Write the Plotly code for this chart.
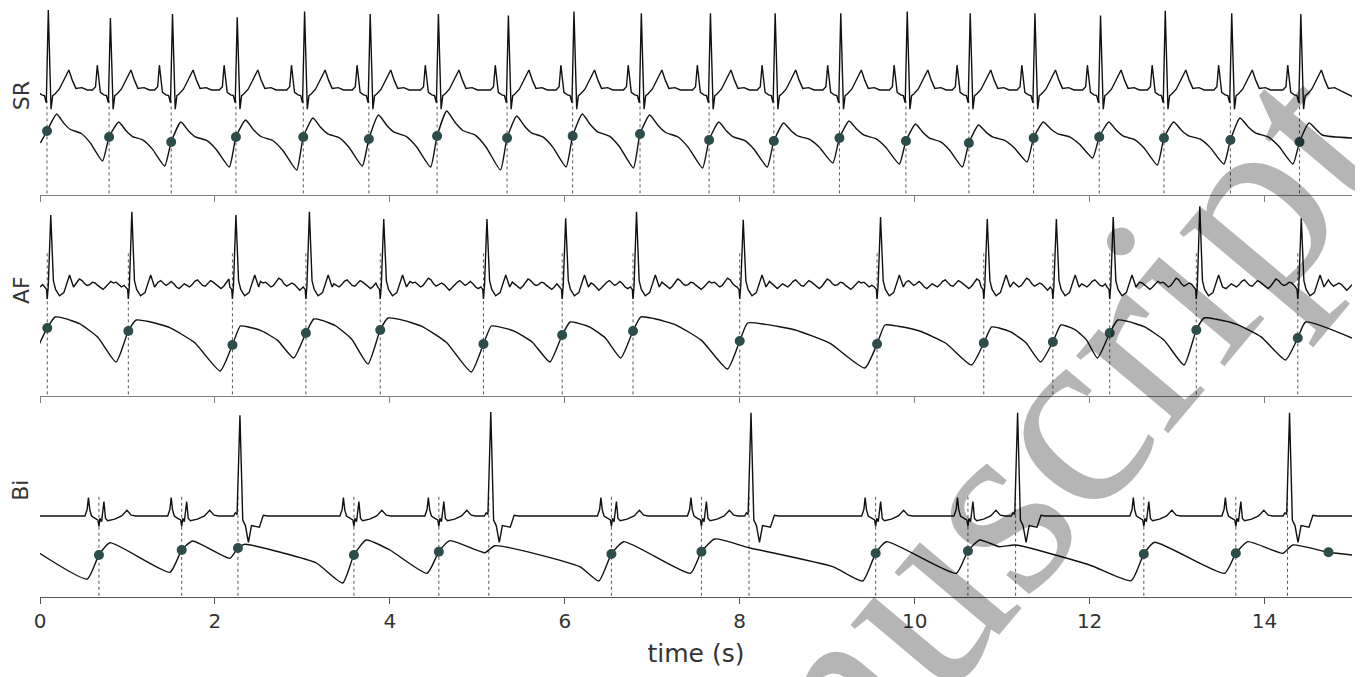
import plotly.graph_objects as go

# ---------------- values ----------------
X_RANGE = [0, 15]
X_TICKS = [0, 2, 4, 6, 8, 10, 12, 14]

# ---- SR (sinus rhythm) panel ----
SR_BEATS = [0.08, 0.79, 1.50, 2.24, 3.01, 3.76, 4.54, 5.34, 6.09, 6.86,
            7.65, 8.39, 9.14, 9.90, 10.62, 11.36, 12.11, 12.85, 13.61, 14.40]
SR_R_MV = [1.00, 0.90, 0.95, 0.91, 0.98, 0.95, 0.95, 0.93, 0.98, 0.96,
           0.96, 0.96, 0.96, 0.98, 0.96, 0.96, 0.93, 0.99, 0.96, 0.95]
SR_ECG_PRE_DT = [-0.19, -0.155, -0.135, -0.115, -0.10, -0.06, -0.03, -0.008]
SR_ECG_PRE_MV = [0.0, 0.04, 0.31, 0.08, -0.03, -0.06, -0.07, -0.16]
SR_ECG_R_DT = 0.015
SR_ECG_POST_DT = [0.046, 0.065, 0.09, 0.14, 0.20, 0.25, 0.29, 0.33, 0.40, 0.46]
SR_ECG_POST_MV = [-0.24, -0.07, -0.05, 0.01, 0.14, 0.25, 0.12, 0.02, 0.03, 0.0]
SR_ECG_TAIL_T = [15.0]
SR_ECG_TAIL_MV = [-0.08]

SR_ABP_DOT = [104, 98, 93, 98, 98, 96, 99, 97, 99, 101,
              95, 94, 97, 94, 92, 97, 98, 97, 95, 93]
SR_ABP_PEAK = [121, 113, 113, 115, 117, 120, 124, 119, 121, 120,
               113, 112, 114, 111, 110, 113, 113, 113, 117, 112]
SR_ABP_TROUGH = [92, 74, 69, 68, 65, 69, 68, 65, 68, 67,
                 67, 68, 72, 71, 68, 73, 77, 70, 71, 71]
SR_ABP_TROUGH_DT = -0.075
SR_ABP_PEAK_DT = 0.11
SR_ABP_FALL_FRAC = [0.16, 0.30, 0.53, 0.73]
SR_ABP_FALL_DROP = [0.20, 0.33, 0.41, 0.61]
SR_ABP_TAIL_T = [14.66, 15.0]
SR_ABP_TAIL_V = [100, 97]

# ---- AF (atrial fibrillation) panel ----
AF_BEATS = [0.083, 1.01, 2.20, 3.04, 3.89, 5.07, 5.97, 6.78, 8.00, 9.57,
            10.79, 11.58, 12.23, 13.22, 14.38]
AF_R_MV = [0.90, 0.94, 0.90, 0.94, 0.85, 0.85, 0.86, 0.94, 0.84, 0.875,
           0.85, 0.85, 0.875, 1.01, 0.86]
AF_ECG_PRE_DT = [-0.03, -0.008, 0.0, 0.012]
AF_ECG_PRE_MV = [0.0, -0.03, -0.15, 0.02]
AF_ECG_R_DT = 0.04
AF_ECG_POST_DT = [0.07, 0.095, 0.14, 0.19, 0.255, 0.30]
AF_ECG_POST_MV = [0.08, -0.03, -0.11, -0.07, 0.15, 0.0]
AF_FWAVE_STEP = 0.03
AF_FWAVE_MV = [0.00, 0.03, 0.07, 0.09, 0.06, 0.02, 0.01, 0.04, 0.08, 0.06,
               0.03, 0.00, -0.02, 0.01, 0.05, 0.10, 0.08, 0.04, 0.02, 0.03,
               0.06, 0.05, 0.02, -0.01, -0.03, 0.00, 0.04, 0.07, 0.05, 0.06,
               0.03, 0.00, 0.02, 0.06, 0.11, 0.09, 0.04, 0.01, 0.03, 0.05,
               0.03, -0.01, -0.04, -0.01, 0.03, 0.06, 0.08, 0.05, 0.02, 0.04,
               0.07, 0.04, 0.00, -0.02, 0.01, 0.04, 0.02]

AF_ABP_DOT = [107, 104, 90, 102, 105, 91, 100, 104, 94, 91, 92, 93, 102, 105, 97]
AF_ABP_PEAK = [118, 115, 109, 116, 117, 109, 113, 118, 112, 110, 108, 110, 115, 117, 113]
AF_ABP_TROUGH = [82, 73, 64, 77, 71, 63, 73, 77, 66, 67, 70, 73, 77, 70, 75]
AF_ABP_TROUGH_DT = -0.14
AF_ABP_PEAK_DT = 0.09
AF_ABP_FALL_FRAC = [0.15, 0.40, 0.70]
AF_ABP_FALL_DROP = [0.03, 0.15, 0.45]
AF_ABP_TAIL_T = [15.0]
AF_ABP_TAIL_V = [97]

# ---- Bi (bigeminy) panel ----
BI_BEATS = [0.674, 1.62, 2.263, 3.589, 4.56, 5.131, 6.533, 7.562, 8.106,
            9.554, 10.609, 11.154, 12.62, 13.672, 14.263]
BI_KIND = ["n", "n", "v", "n", "n", "v", "n", "n", "v",
           "n", "n", "v", "n", "n", "v"]
BI_V_R_MV = [1.26, 1.30, 1.29, 1.29, 1.29]
BI_N_DT = [-0.16, -0.135, -0.12, -0.105, -0.085, -0.045, -0.012, 0.0, 0.012,
           0.03, 0.057, 0.075, 0.10, 0.18, 0.26, 0.32, 0.37, 0.42]
BI_N_MV = [0.0, 0.08, 0.23, 0.08, 0.0, -0.03, -0.05, -0.13, -0.03,
           -0.07, 0.18, -0.03, -0.06, -0.04, 0.0, 0.07, 0.01, 0.0]
BI_V_PRE_DT = [-0.05, -0.03, -0.01]
BI_V_PRE_MV = [0.0, 0.04, 0.02]
BI_V_R_DT = 0.023
BI_V_POST_DT = [0.055, 0.085, 0.12, 0.155, 0.20, 0.245, 0.29, 0.34]
BI_V_POST_MV = [-0.05, -0.12, -0.33, -0.12, -0.13, -0.14, 0.01, 0.0]
BI_ECG_EDGE_T = [0.0, 15.0]
BI_ECG_EDGE_MV = [0.0, 0.0]

BI_ABP_T = [0.0, 0.54, 0.674, 0.80, 1.486, 1.62, 1.745, 2.17, 2.263, 2.34,
            2.78, 3.16, 3.46, 3.589, 3.73, 4.0, 4.426, 4.56, 4.686, 5.086,
            5.2, 6.17, 6.389, 6.533, 6.674, 7.437, 7.562, 7.714, 8.106, 9.063,
            9.406, 9.554, 9.677, 10.476, 10.609, 10.743, 10.97, 11.154, 12.0, 12.476,
            12.62, 12.743, 13.543, 13.672, 13.809, 14.21, 14.323, 14.731, 15.0]
BI_ABP_V = [81.5, 56, 80, 92.3, 62.7, 85, 94, 76.7, 87, 90.7,
            82, 72, 52, 80, 95, 85, 61.7, 83.3, 94.3, 82.3,
            89.3, 68.3, 54, 81, 93.3, 61.7, 83.3, 96, 87.3, 68.3,
            54, 81.7, 93.3, 61.7, 84, 95, 88.3, 90, 70, 54.3,
            81, 92.7, 61.7, 81.7, 93.3, 81.7, 90, 82.7, 80]
BI_DOT_T = [0.674, 1.62, 2.263, 3.589, 4.56, 6.533, 7.562, 9.554, 10.609,
            12.62, 13.672, 14.731]
BI_DOT_V = [80, 85, 87, 80, 83.3, 81, 83.3, 81.7, 84, 81, 81.7, 82.7]

PANEL_LABELS = ["SR", "AF", "Bi"]
X_TITLE = "time (s)"
WATERMARK = "Manuscript"


# ---------------- build the traces ----------------
def ecg_series(beats, r_amps, pre_dt, pre_mv, r_dt, post_dt, post_mv):
    pts = []
    for b, r in zip(beats, r_amps):
        pts += [(b + d, v) for d, v in zip(pre_dt, pre_mv)]
        pts.append((b + r_dt, r))
        pts += [(b + d, v) for d, v in zip(post_dt, post_mv)]
    return pts


def abp_series(beats, dots, peaks, troughs, tr_dt, pk_dt, fracs, drops, tail_t, tail_v):
    pts = []
    n = len(beats)
    for i, b in enumerate(beats):
        pts.append((b + tr_dt, troughs[i]))
        pts.append((b, dots[i]))
        pts.append((b + pk_dt, peaks[i]))
        if i < n - 1:
            t0 = b + pk_dt
            t1 = beats[i + 1] + tr_dt
            for f, d in zip(fracs, drops):
                pts.append((t0 + f * (t1 - t0), peaks[i] - d * (peaks[i] - troughs[i + 1])))
    pts += list(zip(tail_t, tail_v))
    return pts


def unzip(pts):
    pts = sorted(pts)
    return [p[0] for p in pts], [p[1] for p in pts]


# SR
sr_ecg = ecg_series(SR_BEATS, SR_R_MV, SR_ECG_PRE_DT, SR_ECG_PRE_MV, SR_ECG_R_DT,
                    SR_ECG_POST_DT, SR_ECG_POST_MV) + list(zip(SR_ECG_TAIL_T, SR_ECG_TAIL_MV))
sr_abp = abp_series(SR_BEATS, SR_ABP_DOT, SR_ABP_PEAK, SR_ABP_TROUGH, SR_ABP_TROUGH_DT,
                    SR_ABP_PEAK_DT, SR_ABP_FALL_FRAC, SR_ABP_FALL_DROP,
                    SR_ABP_TAIL_T, SR_ABP_TAIL_V)

# AF
af_ecg = ecg_series(AF_BEATS, AF_R_MV, AF_ECG_PRE_DT, AF_ECG_PRE_MV, AF_ECG_R_DT,
                    AF_ECG_POST_DT, AF_ECG_POST_MV)
n_f = int(round(X_RANGE[1] / AF_FWAVE_STEP))
for k in range(n_f + 1):
    t = k * AF_FWAVE_STEP
    if any(b - 0.04 < t < b + 0.32 for b in AF_BEATS):
        continue
    af_ecg.append((t, AF_FWAVE_MV[k % len(AF_FWAVE_MV)]))
af_abp = abp_series(AF_BEATS, AF_ABP_DOT, AF_ABP_PEAK, AF_ABP_TROUGH, AF_ABP_TROUGH_DT,
                    AF_ABP_PEAK_DT, AF_ABP_FALL_FRAC, AF_ABP_FALL_DROP,
                    AF_ABP_TAIL_T, AF_ABP_TAIL_V)

# Bi
bi_ecg = list(zip(BI_ECG_EDGE_T, BI_ECG_EDGE_MV))
vi = 0
for b, kind in zip(BI_BEATS, BI_KIND):
    if kind == "n":
        bi_ecg += [(b + d, v) for d, v in zip(BI_N_DT, BI_N_MV)]
    else:
        bi_ecg += ecg_series([b], [BI_V_R_MV[vi]], BI_V_PRE_DT, BI_V_PRE_MV, BI_V_R_DT,
                             BI_V_POST_DT, BI_V_POST_MV)
        vi += 1

LINE_COL = "#111111"
DOT_COL = "#2c4d4a"
DASH_COL = "#555555"

fig = go.Figure()

panels = [
    (sr_ecg, sr_abp, SR_BEATS, SR_ABP_DOT, SR_BEATS, -0.13, "x", "y", "y2"),
    (af_ecg, af_abp, AF_BEATS, AF_ABP_DOT, AF_BEATS, 0.42, "x2", "y3", "y4"),
    (bi_ecg, list(zip(BI_ABP_T, BI_ABP_V)), BI_DOT_T, BI_DOT_V, BI_BEATS, 0.24, "x3", "y5", "y6"),
]
ECG_RANGES = [[-1.3125, 1.025], [-1.3625, 1.0875], [-1.0125, 1.45]]
ABP_RANGES = [[40, 227], [39, 235], [38, 235]]

for (ecg, abp, dt_, dv_, dash_b, dash_top, xa, ye, ya), er in zip(panels, ECG_RANGES):
    dx, dy = [], []
    for b in dash_b:
        dx += [b, b, None]
        dy += [dash_top, er[0], None]
    fig.add_trace(go.Scatter(x=dx, y=dy, mode="lines", xaxis=xa, yaxis=ye,
                             line=dict(color=DASH_COL, width=1, dash="3px,3px"),
                             hoverinfo="skip", showlegend=False))
    ex, ey = unzip(ecg)
    fig.add_trace(go.Scatter(x=ex, y=ey, mode="lines", xaxis=xa, yaxis=ye,
                             line=dict(color=LINE_COL, width=1.4),
                             showlegend=False))
    axx, axy = unzip(abp)
    fig.add_trace(go.Scatter(x=axx, y=axy, mode="lines", xaxis=xa, yaxis=ya,
                             line=dict(color=LINE_COL, width=1.4, shape="spline",
                                       smoothing=0.5),
                             showlegend=False))
    fig.add_trace(go.Scatter(x=dt_, y=dv_, mode="markers", xaxis=xa, yaxis=ya,
                             marker=dict(color=DOT_COL, size=10),
                             showlegend=False))

domains = [[0.6825, 1.0], [0.3413, 0.674], [0.0, 0.3345]]
layout = dict(
    width=1355, height=669,
    margin=dict(l=32, r=11, t=0, b=80, autoexpand=False),
    paper_bgcolor="white", plot_bgcolor="white",
    showlegend=False,
    font=dict(family="DejaVu Sans", color="#333333"),
)
yax_base = dict(showgrid=False, zeroline=False, showticklabels=False, ticks="",
                showline=False, fixedrange=True, automargin=False)
for i in range(3):
    xname = "xaxis" if i == 0 else "xaxis%d" % (i + 1)
    ye_name = "yaxis" if i == 0 else "yaxis%d" % (2 * i + 1)
    ya_name = "yaxis%d" % (2 * i + 2)
    ye_ref = "y" if i == 0 else "y%d" % (2 * i + 1)
    bottom = (i == 2)
    xa = dict(domain=[0, 1], range=X_RANGE, anchor=ye_ref, automargin=False,
              showgrid=False, zeroline=False, showline=True,
              linecolor="#555555" if bottom else "#808080", linewidth=1.3,
              ticks="outside", ticklen=6, tickwidth=1.2,
              tickcolor="#555555" if bottom else "#808080",
              tickvals=X_TICKS, showticklabels=bottom,
              tickfont=dict(size=20, color="#333333"))
    if i > 0:
        xa["matches"] = "x"
    if bottom:
        xa["title"] = dict(text=X_TITLE, font=dict(size=25, color="#333333"), standoff=12)
    layout[xname] = xa
    layout[ye_name] = dict(yax_base, domain=domains[i], range=ECG_RANGES[i])
    layout[ya_name] = dict(yax_base, overlaying=ye_ref, range=ABP_RANGES[i])

fig.update_layout(**layout)

label_y = [0.852, 0.521, 0.182]
for lab, yy in zip(PANEL_LABELS, label_y):
    fig.add_annotation(text=lab, xref="paper", yref="paper", x=-0.0145, y=yy,
                       xanchor="center", yanchor="middle", textangle=-90,
                       showarrow=False, font=dict(size=22, color="#333333"))

fig.add_annotation(text=WATERMARK, xref="paper", yref="paper", x=0.692, y=0.0645,
                   xanchor="center", yanchor="middle", textangle=-50,
                   showarrow=False,
                   font=dict(family="Liberation Serif", size=262,
                             color="rgba(0,0,0,0.29)"))

fig.write_html("out.html")
